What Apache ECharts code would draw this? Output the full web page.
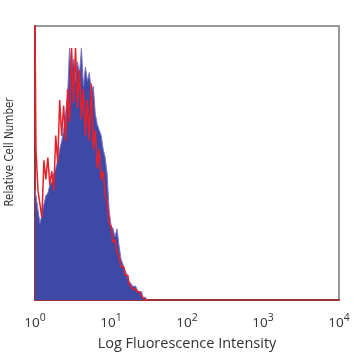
<!DOCTYPE html>
<html><head><meta charset="utf-8">
<script src="https://cdn.jsdelivr.net/npm/echarts@6/dist/echarts.min.js"></script>
<style>html,body{margin:0;padding:0;background:#fff}#c{width:358px;height:358px}</style>
</head><body><div id="c"></div>
<script>
// bin positions in decades (log10 of intensity)
const binLog = [0.000,0.026,0.052,0.078,0.104,0.130,0.156,0.182,0.208,0.234,0.260,0.286,0.312,0.338,0.364,0.390,0.416,0.442,0.468,0.494,0.520,0.546,0.572,0.598,0.624,0.650,0.676,0.702,0.728,0.754,0.780,0.806,0.832,0.858,0.884,0.910,0.936,0.962,0.988,1.014,1.040,1.066,1.092,1.118,1.144,1.170,1.196,1.222,1.248,1.274,1.300,1.326,1.352,1.378,1.404,1.430,1.456,1.482];
const blueCounts = [40,38,33,28,31,35,38,39,42,43,46,48,51,55,58,62,68,75,92,84,88,80,87,82,92,78,85,80,83,76,78,68,64,62,60,55,52,46,33,27,26,23,26,20,15,13,11,9,7,6,5,5,4,3,3,1,1,0];
const redCounts = [100,55,40,35,30,51,44,52,42,47,40,60,50,73,60,71,58,77,65,92,72,92,70,84,66,77,60,73,58,79,55,62,48,55,44,47,38,36,28,27,21,22,17,16,12,12,9,9,6,5,4,4,3,3,2,1,0,0];
const tickDecades = [0,1,2,3,4];

const blueData = binLog.map((x,i)=>[x, blueCounts[i]]);
const redData = binLog.map((x,i)=>[x, redCounts[i]]);

const chart = echarts.init(document.getElementById('c'), null, {renderer:'canvas'});
chart.setOption({
  animation:false,
  grid:{left:35,right:19,top:26,bottom:58,show:true,borderColor:'#9a9a9a',borderWidth:2,backgroundColor:'transparent'},
  xAxis:{type:'value',min:0,max:4,interval:1,
    axisLine:{show:true,lineStyle:{color:'#9b3434',width:2}},
    axisTick:{show:false},splitLine:{show:false},
    axisLabel:{margin:13,color:'#333',
      formatter:v=>tickDecades.indexOf(v)>=0?('{b|10}{s|'+v+'}'):'',
      rich:{b:{fontSize:13.5,fontFamily:'Open Sans',color:'#333'},
            s:{fontSize:10.5,fontFamily:'Open Sans',color:'#333',padding:[0,0,9,0]}}},
    name:'Log Fluorescence Intensity',nameLocation:'middle',nameGap:36,
    nameTextStyle:{fontSize:14.5,fontFamily:'Open Sans',color:'#333'}},
  yAxis:{type:'value',min:0,max:100,
    axisLine:{show:true,lineStyle:{color:'#9b3434',width:2}},
    axisTick:{show:false},splitLine:{show:false},axisLabel:{show:false}},
  graphic:[{type:'text',x:10,y:152,rotation:Math.PI/2,
    style:{text:'Relative Cell Number',fill:'#333',
      font:'11.5px "Liberation Sans Narrow", "DejaVu Sans Condensed", sans-serif',
      align:'center',verticalAlign:'middle'}}],
  series:[
    {type:'line',data:blueData,step:'middle',symbol:'none',
     lineStyle:{color:'#7f74c4',width:1},
     areaStyle:{color:'#3c49a6',opacity:1},z:2},
    {type:'line',data:redData,step:'middle',symbol:'none',
     lineStyle:{color:'#e8202a',width:1.5},z:3}
  ]
});
</script></body></html>
